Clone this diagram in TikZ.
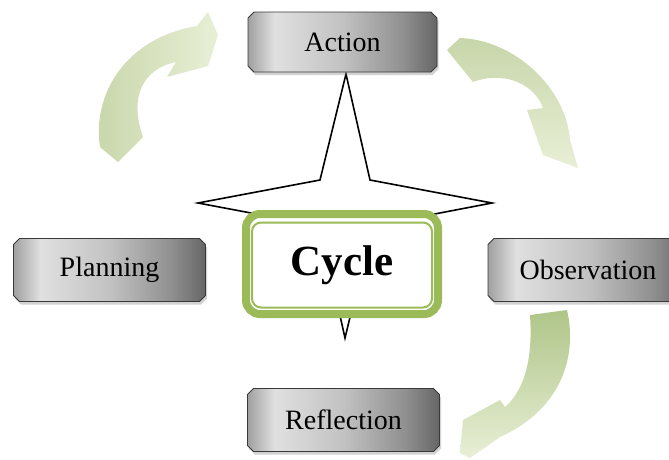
\documentclass[tikz,border=0pt]{standalone}
\usepackage{fontspec}
\setmainfont{Liberation Serif}
\usetikzlibrary{shapes.misc,shadows}
\definecolor{mgA}{HTML}{A0A0A0}
\definecolor{mgB}{HTML}{E0E0E0}
\definecolor{mgC}{HTML}{C2C2C2}
\definecolor{mgD}{HTML}{909090}
\definecolor{mgE}{HTML}{666666}
\definecolor{cgreen}{HTML}{9BBB59}
\definecolor{agL}{HTML}{E8EFD6}
\definecolor{agD}{HTML}{C8D6AA}
\definecolor{agD2}{HTML}{AFC588}
\pgfdeclarehorizontalshading{metal}{100bp}{color(0bp)=(mgA); color(25bp)=(mgA); color(32bp)=(mgB); color(50bp)=(mgC); color(66bp)=(mgD); color(75bp)=(mgE); color(100bp)=(mgE)}
\tikzset{
  metalbox/.style={chamfered rectangle, chamfered rectangle xsep=3pt,
    chamfered rectangle ysep=3pt, shade, shading=metal,
    draw=gray!45!black, line width=0.8pt, inner sep=2pt,
    font=\fontsize{28}{32}\selectfont,
    drop shadow={opacity=0.35, shadow xshift=1.5pt, shadow yshift=-3pt}},
  greenarrow/.style={draw=none},
  startline/.style={draw=black, line width=1.6pt, fill=white, line join=miter},
}
\begin{document}
\begin{tikzpicture}[x=1pt,y=-1pt]
\useasboundingbox (0,0) rectangle (669,459);
\clip (0,0) rectangle (669,459);
\fill[white] (0,0) rectangle (669,459);
% green curved arrows
\path[greenarrow, left color=agD, right color=agL]
  (118,162) -- (100,147) .. controls (92,95) and (125,38) .. (197,26)
  -- (208,12) -- (218,35) -- (208,66) -- (167,77) -- (176,62)
  .. controls (145,68) and (128,95) .. (143,137) -- cycle;
\path[greenarrow, top color=agD, bottom color=agL]
  (447,50) -- (460,38) .. controls (515,40) and (566,88) .. (570,140)
  -- (578,168) -- (543,155) -- (527,110) -- (543,108)
  .. controls (535,85) and (505,70) .. (473,82) -- cycle;
\path[greenarrow, top color=agD2, bottom color=agL]
  (530,315) -- (567,310) .. controls (578,358) and (560,410) .. (500,437)
  -- (470,458) -- (460,453) -- (463,420) -- (500,400) -- (505,407)
  .. controls (530,385) and (532,345) .. (530,315) -- cycle;
% star
\path[startline] (346,74) -- (370,180) -- (492,203) -- (372,226) -- (345,338)
  -- (320,226) -- (198,203) -- (320,180) -- cycle;
% cycle box
\node[draw=cgreen, line width=8pt, rounded corners=14pt, fill=white,
  minimum width=192pt, minimum height=100pt, inner sep=0pt] (cycle) at (342,264) {};
\node[draw=cgreen, line width=2pt, rounded corners=9pt,
  minimum width=180pt, minimum height=85pt, inner sep=0pt,
  font=\fontsize{43}{46}\selectfont\bfseries] (cycletext) at (342,265) {\raisebox{-4pt}{Cycle}};
% gray boxes
\node[metalbox, minimum width=189pt, minimum height=60pt] (action) at (342.5,42) {Action};
\node[metalbox, minimum width=192pt, minimum height=63pt] (planning) at (109.5,270) {Planning};
\node[metalbox, minimum width=200pt, minimum height=63pt] (observation) at (588,270) {Observation};
\node[metalbox, minimum width=192pt, minimum height=63pt] (reflection) at (343.5,420) {Reflection};
\end{tikzpicture}
\end{document}
